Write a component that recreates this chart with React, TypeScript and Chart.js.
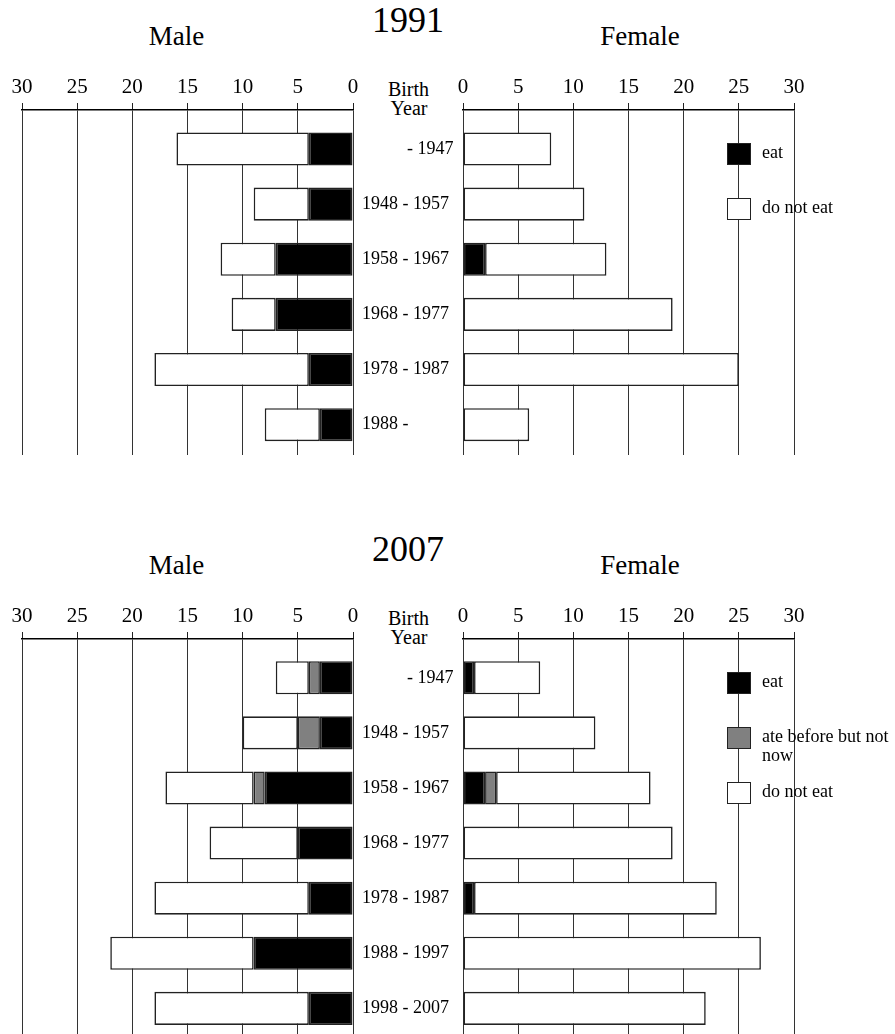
import React, { useEffect, useRef } from 'react';
import { Chart, registerables } from 'chart.js';

Chart.register(...registerables);

const FONT = '"Liberation Serif", "Times New Roman", Times, serif';

// ---------- data ----------
const categories1991 = ['          - 1947', '1948 - 1957', '1958 - 1967', '1968 - 1977', '1978 - 1987', '1988 -'];
const male1991Eat = [4, 4, 7, 7, 4, 3];
const male1991NotEat = [12, 5, 5, 4, 14, 5];
const female1991Eat = [0, 0, 2, 0, 0, 0];
const female1991NotEat = [8, 11, 11, 19, 25, 6];

const categories2007 = ['          - 1947', '1948 - 1957', '1958 - 1967', '1968 - 1977', '1978 - 1987', '1988 - 1997', '1998 - 2007'];
const male2007Eat = [3, 3, 8, 5, 4, 9, 4];
const male2007AteBefore = [1, 2, 1, 0, 0, 0, 0];
const male2007NotEat = [3, 5, 8, 8, 14, 13, 14];
const female2007Eat = [1, 0, 2, 0, 1, 0, 0];
const female2007AteBefore = [0, 0, 1, 0, 0, 0, 0];
const female2007NotEat = [6, 12, 14, 19, 22, 27, 22];

const legend1991 = ['eat', 'do not eat'];
const legend2007 = ['eat', 'ate before but not\nnow', 'do not eat'];

const COLOR_EAT = '#000000';
const COLOR_ATE = '#808080';
const COLOR_NOT = '#ffffff';

type Series = { label: string; values: number[]; color: string };

function buildConfig(
  side: 'male' | 'female',
  labels: string[],
  series: Series[],
  yMin: number,
  yMax: number,
  canvasWidth: number,
  areaRight: number
): any {
  const isMale = side === 'male';
  return {
    type: 'bar',
    data: {
      datasets: series.map((s) => ({
        label: s.label,
        data: s.values.map((v, i) => ({ x: v === 0 ? null : v, y: i })),
        backgroundColor: s.color,
        borderColor: '#222222',
        borderWidth: 1.6,
        borderSkipped: false,
        barPercentage: 0.6,
        categoryPercentage: 1,
      })),
    },
    options: {
      indexAxis: 'y',
      animation: false,
      responsive: false,
      maintainAspectRatio: false,
      events: [],
      layout: {
        padding: isMale
          ? { left: 22, right: 0, top: 10, bottom: 0 }
          : { left: 18, right: canvasWidth - areaRight, top: 10, bottom: 0 },
      },
      plugins: { legend: { display: false }, tooltip: { enabled: false }, title: { display: false } },
      scales: {
        x: {
          type: 'linear',
          position: 'top',
          reverse: isMale,
          min: 0,
          max: 30,
          stacked: true,
          ticks: {
            stepSize: 5,
            color: '#000',
            padding: 3,
            maxRotation: 0,
            font: { family: FONT, size: 21 },
          },
          grid: {
            color: '#333',
            lineWidth: 1,
            tickLength: 7,
            tickColor: '#222',
          },
          border: { display: true, color: '#000', width: 1.5 },
          afterFit: (scale: any) => {
            scale.height = 40;
          },
        },
        y: {
          type: 'linear',
          position: isMale ? 'right' : 'left',
          display: isMale,
          reverse: true,
          offset: false,
          min: yMin,
          max: yMax,
          stacked: true,
          grid: { display: false, drawTicks: false, offset: false },
          border: { display: false },
          afterBuildTicks: (scale: any) => {
            scale.ticks = labels.map((_, i) => ({ value: i }));
          },
          ticks: {
            autoSkip: false,
            padding: 9,
            crossAlign: 'near',
            color: '#000',
            font: { family: FONT, size: 18 },
            callback: (val: number) => (labels[val] !== undefined ? labels[val] : ''),
          },
          afterFit: (scale: any) => {
            scale.width = isMale ? canvasWidth - areaRight : 0;
            scale.paddingTop = 0;
            scale.paddingBottom = 0;
          },
        },
      },
    },
  };
}

function ChartCanvas(props: {
  left: number;
  top: number;
  width: number;
  height: number;
  config: () => any;
}) {
  const ref = useRef<HTMLCanvasElement | null>(null);
  useEffect(() => {
    if (!ref.current) return;
    const chart = new Chart(ref.current, props.config());
    return () => chart.destroy();
  }, []);
  return (
    <canvas
      ref={ref}
      width={props.width}
      height={props.height}
      style={{ position: 'absolute', left: props.left, top: props.top, width: props.width, height: props.height, display: 'block' }}
    />
  );
}

// text placed by its baseline
function Txt(props: { x: number; baseline: number; size: number; align?: 'left' | 'center'; children: React.ReactNode; lineHeight?: number }) {
  const size = props.size;
  const lh = props.lineHeight ?? size;
  const top = props.baseline - ((lh - 1.107 * size) / 2 + 0.891 * size);
  const align = props.align ?? 'center';
  const style: React.CSSProperties = {
    position: 'absolute',
    top,
    fontFamily: FONT,
    fontSize: size,
    lineHeight: `${lh}px`,
    color: '#000',
    whiteSpace: 'pre',
  };
  if (align === 'center') {
    style.left = props.x - 200;
    style.width = 400;
    style.textAlign = 'center';
  } else {
    style.left = props.x;
  }
  return <div style={style}>{props.children}</div>;
}

function Legend(props: { items: string[]; colors: string[]; top: number }) {
  return (
    <>
      {props.items.map((item, i) => {
        const boxTop = props.top + i * 55;
        return (
          <React.Fragment key={item}>
            <div
              style={{
                position: 'absolute',
                left: 727,
                top: boxTop,
                width: 24,
                height: 22,
                boxSizing: 'border-box',
                border: '1.5px solid #222',
                background: props.colors[i],
              }}
            />
            <Txt x={762} baseline={boxTop + 15.5} size={18} align="left" lineHeight={18.5}>
              {item}
            </Txt>
          </React.Fragment>
        );
      })}
    </>
  );
}

function Panel(props: {
  offset: number;
  year: string;
  labels: string[];
  male: Series[];
  female: Series[];
  legendItems: string[];
  legendColors: string[];
  yMin: number;
  yMax: number;
  height: number;
}) {
  const o = props.offset;
  return (
    <>
      <Txt x={408} baseline={31.7 + o} size={36}>{props.year}</Txt>
      <Txt x={176.5} baseline={45.7 + o} size={27}>Male</Txt>
      <Txt x={640} baseline={45.7 + o} size={27}>Female</Txt>
      <Txt x={408.5} baseline={96 + o} size={20}>Birth</Txt>
      <Txt x={409} baseline={115 + o} size={20}>Year</Txt>
      <ChartCanvas
        left={0}
        top={60 + o}
        width={460}
        height={props.height}
        config={() => buildConfig('male', props.labels, props.male, props.yMin, props.yMax, 460, 353)}
      />
      <ChartCanvas
        left={445}
        top={60 + o}
        width={450}
        height={props.height}
        config={() => buildConfig('female', props.labels, props.female, props.yMin, props.yMax, 450, 349)}
      />
      <Legend items={props.legendItems} colors={props.legendColors} top={143 + o} />
    </>
  );
}

export default function App() {
  return (
    <div style={{ position: 'absolute', left: 0, top: 0, width: 895, height: 1034, overflow: 'hidden', background: '#fff' }}>
      <Panel
        offset={0}
        year="1991"
        labels={categories1991}
        male={[
          { label: 'eat', values: male1991Eat, color: COLOR_EAT },
          { label: 'do not eat', values: male1991NotEat, color: COLOR_NOT },
        ]}
        female={[
          { label: 'eat', values: female1991Eat, color: COLOR_EAT },
          { label: 'do not eat', values: female1991NotEat, color: COLOR_NOT },
        ]}
        legendItems={legend1991}
        legendColors={[COLOR_EAT, COLOR_NOT]}
        yMin={-0.707}
        yMax={5.55}
        height={395}
      />
      <Panel
        offset={529}
        year="2007"
        labels={categories2007}
        male={[
          { label: 'eat', values: male2007Eat, color: COLOR_EAT },
          { label: 'ate before but not now', values: male2007AteBefore, color: COLOR_ATE },
          { label: 'do not eat', values: male2007NotEat, color: COLOR_NOT },
        ]}
        female={[
          { label: 'eat', values: female2007Eat, color: COLOR_EAT },
          { label: 'ate before but not now', values: female2007AteBefore, color: COLOR_ATE },
          { label: 'do not eat', values: female2007NotEat, color: COLOR_NOT },
        ]}
        legendItems={legend2007}
        legendColors={[COLOR_EAT, COLOR_ATE, COLOR_NOT]}
        yMin={-0.704}
        yMax={6.465}
        height={445}
      />
    </div>
  );
}
